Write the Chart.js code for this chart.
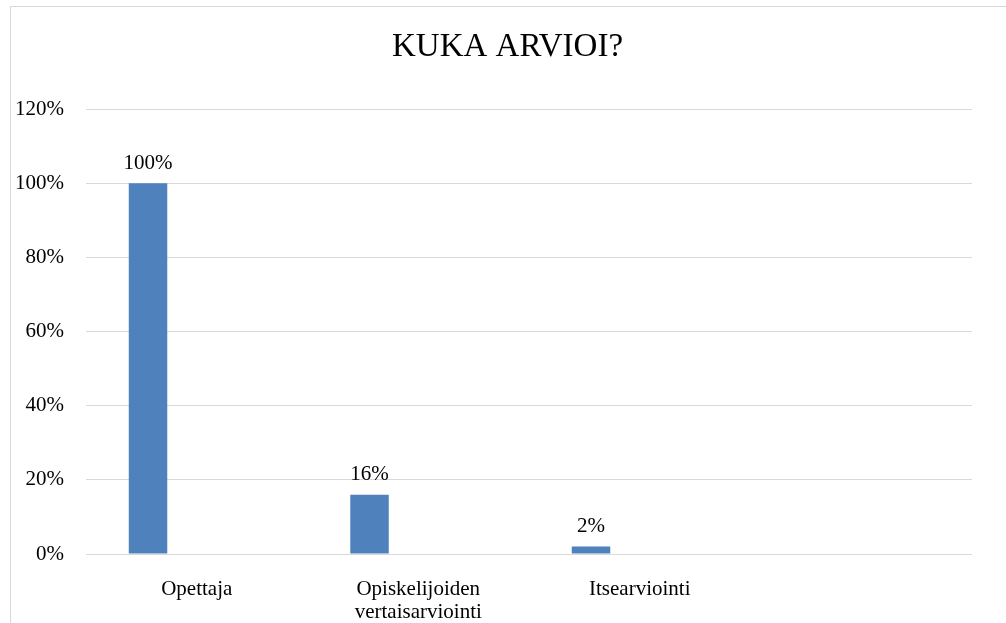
<!DOCTYPE html>
<html>
<head>
<meta charset="utf-8">
<script src="https://cdn.jsdelivr.net/npm/chart.js@4"></script>
<style>
  html, body { margin: 0; padding: 0; background: #fff; }
  #wrap { position: relative; width: 1006px; height: 623px; overflow: hidden; }
  #frame { position: absolute; left: 10px; top: 6px; right: -2px; bottom: -2px;
           border-left: 1px solid #d9d9d9; border-top: 1px solid #d9d9d9; }
  #c { position: absolute; left: 0; top: 0; }
</style>
</head>
<body>
<div id="wrap">
  <div id="frame"></div>
  <canvas id="c" width="1006" height="623"></canvas>
</div>
<script>
const chartTitle = 'KUKA ARVIOI?';
const categories = ['Opettaja', ['Opiskelijoiden', 'vertaisarviointi'], 'Itsearviointi', ''];
const values = [100, 16, 2, null];
const emptySeries = [null, null, null, null];
const yTicks = [0, 20, 40, 60, 80, 100, 120];

const FONT = "'Liberation Serif', 'Times New Roman', serif";

const valueLabels = {
  id: 'valueLabels',
  afterDatasetsDraw(chart) {
    const ctx = chart.ctx;
    const meta = chart.getDatasetMeta(0);
    ctx.save();
    ctx.font = '21px ' + FONT;
    ctx.fillStyle = '#000';
    ctx.textAlign = 'center';
    ctx.textBaseline = 'alphabetic';
    meta.data.forEach((bar, i) => {
      const v = values[i];
      if (v === null || v === undefined) return;
      ctx.fillText(v + '%', bar.x, bar.y - 14.5);
    });
    ctx.restore();
  }
};

// centre the title over the whole framed chart, not only the plot box
const titleCentre = {
  id: 'titleCentre',
  afterLayout(chart) {
    if (chart.titleBlock) {
      chart.titleBlock.left = 43;
    }
  }
};

new Chart(document.getElementById('c'), {
  type: 'bar',
  data: {
    labels: categories,
    datasets: [
      { label: 'Sarja 1', data: values, backgroundColor: '#4F81BD',
        categoryPercentage: 0.88, barPercentage: 0.395 },
      { label: 'Sarja 2', data: emptySeries, backgroundColor: '#C0504D',
        categoryPercentage: 0.88, barPercentage: 0.395 }
    ]
  },
  options: {
    responsive: false,
    animation: false,
    devicePixelRatio: 1,
    layout: { padding: { left: 0, right: 34, top: 0, bottom: 0 } },
    plugins: {
      legend: { display: false },
      tooltip: { enabled: false },
      title: {
        display: true,
        text: chartTitle,
        color: '#000',
        font: { family: FONT, size: 33, weight: 'normal', lineHeight: 1.2 },
        padding: { top: 28, bottom: 41.4 }
      }
    },
    scales: {
      x: {
        grid: { display: false },
        border: { display: false },
        ticks: {
          color: '#000',
          font: { family: FONT, size: 21, lineHeight: 1.08 },
          padding: 16,
          maxRotation: 0,
          autoSkip: false
        },
        afterFit(scale) { scale.height = 69; }
      },
      y: {
        min: 0,
        max: 120,
        afterBuildTicks(scale) { scale.ticks = yTicks.map(v => ({ value: v })); },
        grid: { color: '#d9d9d9', lineWidth: 1, drawTicks: false },
        border: { display: false },
        ticks: {
          color: '#000',
          font: { family: FONT, size: 21 },
          padding: 22,
          callback: v => v + '%'
        },
        afterFit(scale) { scale.width = 86; }
      }
    }
  },
  plugins: [valueLabels, titleCentre]
});
</script>
</body>
</html>
